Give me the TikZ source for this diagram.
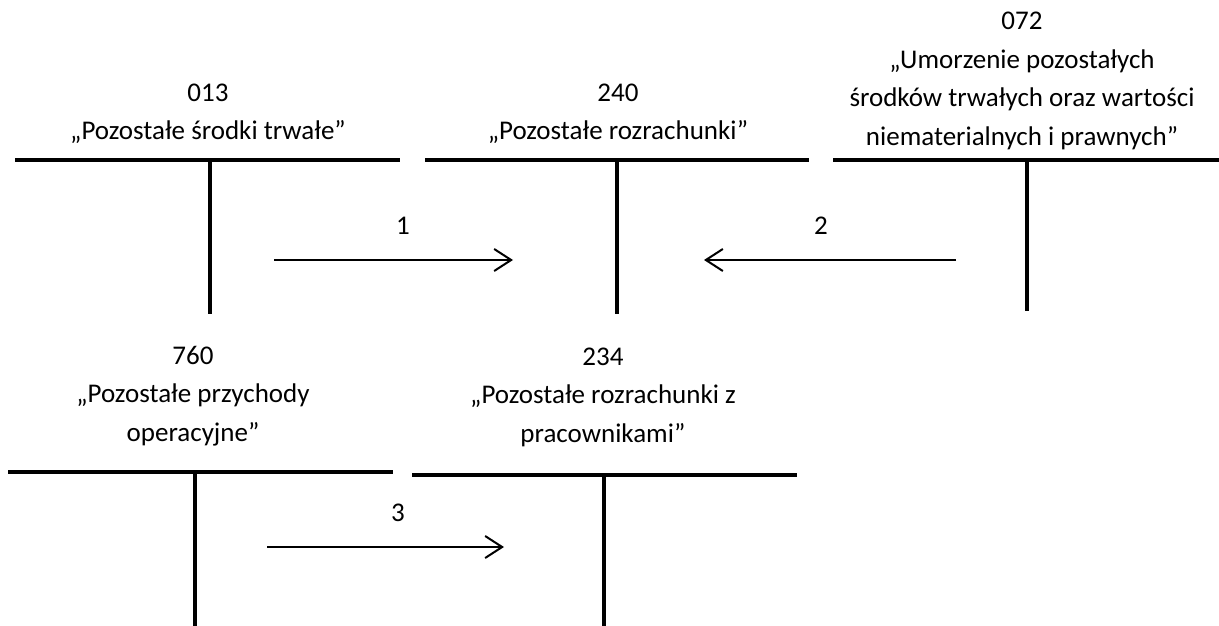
\documentclass[tikz,border=0pt]{standalone}
\usepackage{fontspec}
\setmainfont{Carlito}
\usetikzlibrary{arrows.meta}
\begin{document}
\begin{tikzpicture}[x=1pt,y=-1pt,
  tline/.style={line width=4pt},
  flow/.style={line width=2pt,-{Straight Barb[length=17pt,width=22pt,line width=2pt]}},
  acct/.style={align=center,inner sep=0pt,font=\fontsize{27}{38.5}\selectfont},
  num/.style={inner sep=0pt,font=\fontsize{27}{39}\selectfont}]
\useasboundingbox (0,0) rectangle (1219,626);
% account texts
\node[acct] (t013) at (208,114) {013\\„Pozostałe środki trwałe”};
\node[acct] (t240) at (618,114) {240\\„Pozostałe rozrachunki”};
\node[acct] (t072) at (1022,81) {072\\„Umorzenie pozostałych\\środków trwałych oraz wartości\\niematerialnych i prawnych”};
\node[acct] (t760) at (193,396) {760\\„Pozostałe przychody\\operacyjne”};
\node[acct] (t234) at (603,397) {234\\„Pozostałe rozrachunki z\\pracownikami”};
% T-accounts
\coordinate (a1l) at (15,160); \coordinate (a1r) at (400,160);
\coordinate (a1t) at (210,160); \coordinate (a1b) at (210,314);
\coordinate (a2l) at (425,160); \coordinate (a2r) at (809,160);
\coordinate (a2t) at (617,160); \coordinate (a2b) at (617,314);
\coordinate (a3l) at (833,160); \coordinate (a3r) at (1219,160);
\coordinate (a3t) at (1027,160); \coordinate (a3b) at (1027,311);
\coordinate (a4l) at (8,472); \coordinate (a4r) at (393,472);
\coordinate (a4t) at (195,472); \coordinate (a4b) at (195,626);
\coordinate (a5l) at (412,475); \coordinate (a5r) at (797,475);
\coordinate (a5t) at (604,475); \coordinate (a5b) at (604,626);
\foreach \a in {a1,a2,a3,a4,a5}{
  \draw[tline] (\a l) -- (\a r);
  \draw[tline] (\a t) -- (\a b);
}
% flows
\coordinate (f1s) at (274,260); \coordinate (f1e) at (513,260);
\coordinate (f2s) at (956,260); \coordinate (f2e) at (704,260);
\coordinate (f3s) at (267,547); \coordinate (f3e) at (504,547);
\draw[flow] (f1s) -- (f1e);
\draw[flow] (f2s) -- (f2e);
\draw[flow] (f3s) -- (f3e);
\node[num] (n1) at (403,226) {1};
\node[num] (n2) at (821,226) {2};
\node[num] (n3) at (398,513) {3};
\end{tikzpicture}
\end{document}
